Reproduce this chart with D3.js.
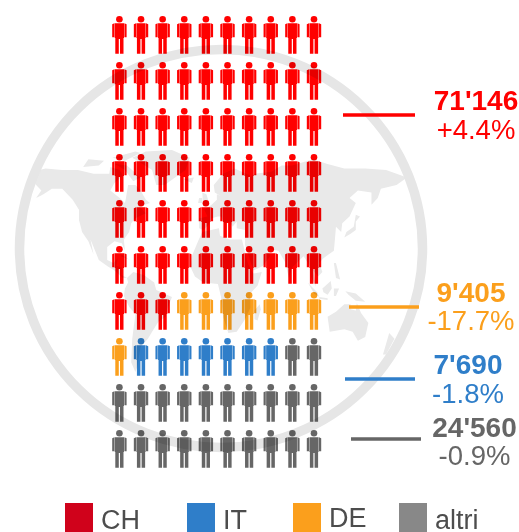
<!DOCTYPE html>
<html lang="en">
<head>
<meta charset="UTF-8">
<title>Stranieri</title>
<script src="https://d3js.org/d3.v7.min.js"></script>
<style>
    html, body { margin: 0; padding: 0; background: #fff; }
    svg { display: block; }
    text { font-family: "Liberation Sans", Arial, sans-serif; }
    .person { mix-blend-mode: multiply; }
</style>
</head>
<body>
<div id="chart"></div>
<script>
    // DATA
    const categories = ["CH", "DE", "IT", "altri"]
    const personCounts = [63, 8, 7, 22]   // figures out of 100
    const valueLabels = ["71'146", "9'405", "7'690", "24'560"]
    const changeLabels = ["+4.4%", "-17.7%", "-1.8%", "-0.9%"]
    const legendOrder = ["CH", "IT", "DE", "altri"]

    const textColors = { CH: "#ff0000", DE: "#fb9f1c", IT: "#2f7ec9", altri: "#666666" }
    const legendColors = { CH: "#d0021b", DE: "#fb9f1c", IT: "#2f7ec9", altri: "#888888" }

    // background map, rough outlines in lon/lat
    const land = [
        [[-168,65],[-162,70],[-156,71],[-140,70],[-125,70],[-110,68],[-95,68],[-94,72],[-85,70],[-82,67],[-90,63],[-94,59],[-85,55],[-80,52],[-79,55],[-77,62],[-70,62],[-65,59],[-60,54],[-56,52],[-66,50],[-60,46],[-70,43],[-74,40],[-76,35],[-81,31],[-80,25],[-83,29],[-90,30],[-97,27],[-97,20],[-91,18],[-87,21],[-88,16],[-83,15],[-83,10],[-78,8],[-82,8],[-90,13],[-97,16],[-105,20],[-110,27],[-113,31],[-110,23],[-115,30],[-121,35],[-124,42],[-124,48],[-130,54],[-140,60],[-150,60],[-158,57],[-165,55],[-160,59],[-165,62]],
        [[-78,8],[-72,12],[-62,10],[-52,5],[-50,0],[-35,-6],[-39,-15],[-41,-22],[-48,-26],[-54,-34],[-58,-38],[-65,-42],[-68,-52],[-70,-55],[-74,-50],[-73,-38],[-70,-20],[-76,-14],[-81,-5],[-80,1],[-77,5]],
        [[-73,78],[-60,82],[-35,83],[-18,78],[-22,70],[-42,62],[-50,62],[-54,70],[-68,76]],
        [[-120,72],[-105,73],[-100,76],[-115,77]],
        [[-90,74],[-78,73],[-65,66],[-72,64],[-80,70]],
        [[-92,78],[-70,82],[-65,81],[-80,76]],
        [[-84,22],[-75,20],[-78,21],[-83,23]],
        [[-6,35],[10,37],[11,33],[20,31],[32,31],[35,24],[38,17],[43,11],[51,12],[47,3],[40,-3],[40,-15],[35,-24],[27,-34],[19,-35],[14,-22],[12,-6],[9,4],[-5,5],[-13,9],[-17,15],[-16,22],[-10,30]],
        [[49,-12],[50,-16],[47,-25],[44,-24],[44,-17]],
        [[-9,37],[-9,43],[-1,44],[-4,48],[3,51],[8,54],[8,57],[12,56],[6,58],[5,62],[14,68],[25,71],[40,67],[35,64],[44,68],[60,69],[70,73],[80,73],[100,77],[113,74],[130,71],[150,71],[170,70],[190,66],[180,62],[165,60],[162,55],[156,51],[156,58],[143,59],[135,55],[141,52],[135,44],[128,40],[127,35],[122,38],[121,31],[120,25],[110,21],[106,18],[109,12],[105,9],[100,13],[103,2],[98,9],[97,16],[91,22],[80,15],[77,8],[73,19],[67,25],[57,26],[59,22],[52,16],[43,13],[35,28],[35,36],[27,37],[27,41],[23,38],[20,41],[15,40],[12,44],[9,44],[3,43],[0,39],[-5,36]],
        [[130,32],[136,34],[141,36],[141,41],[145,44],[141,45],[139,38],[132,35]],
        [[-5,50],[1,51],[-2,57],[-6,58]],
        [[-10,52],[-6,52],[-6,55],[-9,55]],
        [[-24,65],[-14,66],[-16,63]],
        [[114,-22],[122,-18],[130,-12],[136,-12],[136,-16],[141,-17],[142,-11],[146,-19],[153,-27],[150,-37],[143,-39],[138,-34],[130,-32],[116,-34]],
        [[173,-35],[178,-38],[170,-46],[167,-46]],
        [[95,5],[104,-2],[106,-6],[101,-3]],
        [[109,1],[117,6],[118,1],[114,-4],[110,-2]],
        [[106,-6],[114,-7],[114,-8.5],[106,-7.5]],
        [[120,1],[125,1],[122,-5],[120,-5]],
        [[131,-1],[141,-3],[150,-10],[141,-9],[134,-4]],
        [[120,18],[122,18],[126,7],[122,8]]
    ]

    const WIDTH = 519
    const HEIGHT = 532

    const svg = d3.select("#chart")
        .append("svg")
        .attr("width", WIDTH)
        .attr("height", HEIGHT)

    // MAP + RING
    const lonScale = d3.scaleLinear().domain([-168, 190]).range([33, 407])
    const latScale = d3.scaleLinear()
        .domain([-55, -35, -11, 0, 20, 36, 55, 70, 83])
        .range([372, 333, 303, 290, 260, 230, 198, 170, 150])

    const landLine = d3.line()
        .x(d => lonScale(d[0]))
        .y(d => latScale(d[1]))
        .curve(d3.curveLinearClosed)

    svg.append("g")
        .selectAll("path")
        .data(land)
        .enter().append("path")
        .attr("d", landLine)
        .attr("fill", "#e9e9e9")

    svg.append("ellipse")
        .attr("cx", 221)
        .attr("cy", 248.5)
        .attr("rx", 201.5)
        .attr("ry", 199)
        .attr("fill", "none")
        .attr("stroke", "#e6e6e6")
        .attr("stroke-width", 9.5)

    // PEOPLE
    const people = categories.flatMap((c, i) => d3.range(personCounts[i]).map(() => c))

    const x = d3.scalePoint().domain(d3.range(10)).range([119.4, 314])
    const y = d3.scalePoint().domain(d3.range(10)).range([16, 430])

    const personPath = [
        "M-4.6,7.2 H4.6 V22 H4.1 V37.7 H0.6 V23 H-0.6 V37.7 H-4.1 V22 H-4.6 Z",
        "M-5,7.2 L-7.2,8.2 V21.2 H-5 Z",
        "M5,7.2 L7.2,8.2 V21.2 H5 Z"
    ].join(" ")

    const person = svg.append("g")
        .selectAll("g")
        .data(people)
        .enter().append("g")
        .attr("class", "person")
        .attr("transform", (d, i) => `translate(${x(i % 10)}, ${y(Math.floor(i / 10))})`)
        .attr("fill", d => textColors[d])

    person.append("circle")
        .attr("cy", 3.2)
        .attr("r", 3.3)

    person.append("path")
        .attr("d", personPath)

    // LABELS
    const lineX = { CH: [343, 415], DE: [349, 419], IT: [345, 415], altri: [351, 421] }
    const lineY = { CH: 115, DE: 307, IT: 379, altri: 439 }
    const labelX = { CH: 476, DE: 471, IT: 468, altri: 474.5 }
    const valueY = { CH: 110, DE: 302, IT: 374, altri: 437 }
    const changeY = { CH: 139, DE: 330, IT: 403, altri: 465 }

    const label = svg.append("g")
        .selectAll("g")
        .data(categories)
        .enter().append("g")

    label.append("line")
        .attr("x1", d => lineX[d][0])
        .attr("x2", d => lineX[d][1])
        .attr("y1", d => lineY[d])
        .attr("y2", d => lineY[d])
        .attr("stroke", d => textColors[d])
        .attr("stroke-width", 3.5)

    label.append("text")
        .attr("x", d => labelX[d])
        .attr("y", d => valueY[d])
        .attr("text-anchor", "middle")
        .attr("font-size", "28px")
        .attr("font-weight", "bold")
        .attr("fill", d => textColors[d])
        .text((d, i) => valueLabels[i])

    label.append("text")
        .attr("x", d => labelX[d])
        .attr("y", d => changeY[d])
        .attr("text-anchor", "middle")
        .attr("font-size", "27.5px")
        .attr("fill", d => textColors[d])
        .text((d, i) => changeLabels[i])

    // LEGEND
    const legendX = { CH: 65, IT: 187, DE: 293, altri: 399 }
    const legendTextY = { CH: 529, IT: 529, DE: 527, altri: 529 }

    const legend = svg.append("g")
        .selectAll("g")
        .data(legendOrder)
        .enter().append("g")

    legend.append("rect")
        .attr("x", d => legendX[d])
        .attr("y", 503)
        .attr("width", 28)
        .attr("height", 29)
        .attr("fill", d => legendColors[d])

    legend.append("text")
        .attr("x", d => legendX[d] + 36)
        .attr("y", d => legendTextY[d])
        .attr("font-size", "27px")
        .attr("fill", "#4d4d4d")
        .text(d => d)
</script>
</body>
</html>
